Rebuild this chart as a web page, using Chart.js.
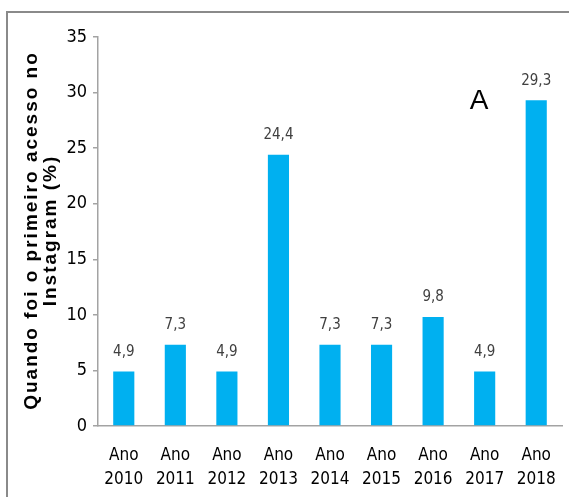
<!DOCTYPE html>
<html>
<head>
<meta charset="utf-8">
<script src="https://cdn.jsdelivr.net/npm/chart.js@4.4.1/dist/chart.umd.min.js"></script>
<style>
  html, body { margin: 0; padding: 0; background: #ffffff; }
  #wrap { position: relative; width: 569px; height: 497px; }
  canvas { display: block; }
</style>
</head>
<body>
<div id="wrap"><canvas id="chart" width="569" height="497"></canvas></div>
<script>
// Categories and series values (percent of respondents)
const categories = [
  ['Ano', '2010'], ['Ano', '2011'], ['Ano', '2012'], ['Ano', '2013'], ['Ano', '2014'],
  ['Ano', '2015'], ['Ano', '2016'], ['Ano', '2017'], ['Ano', '2018']
];
const firstAccess = [4.9, 7.3, 4.9, 24.4, 7.3, 7.3, 9.8, 4.9, 29.3];
const valueLabels = ['4,9', '7,3', '4,9', '24,4', '7,3', '7,3', '9,8', '4,9', '29,3'];
const yTicks = [0, 5, 10, 15, 20, 25, 30, 35];
const axisTitle = ['Quando foi o primeiro acesso no', 'Instagram (%)'];
const panelLetter = 'A';

const NARROW = "'DejaVu Sans Condensed', 'Liberation Sans', Arial, sans-serif";
const axisColor = '#a3a3a3';

// Outer frame (top and left edges) drawn behind the chart
const framePlugin = {
  id: 'frame',
  beforeDraw(chart) {
    const ctx = chart.ctx;
    ctx.save();
    ctx.strokeStyle = '#8a8a8a';
    ctx.lineWidth = 2;
    ctx.beginPath();
    ctx.moveTo(7, chart.height);
    ctx.lineTo(7, 12);
    ctx.lineTo(chart.width, 12);
    ctx.stroke();
    ctx.restore();
  }
};

// Value labels above bars, the rotated two-line axis title and the panel letter
const annotatePlugin = {
  id: 'annotate',
  afterDatasetsDraw(chart) {
    const ctx = chart.ctx;
    const meta = chart.getDatasetMeta(0);
    ctx.save();
    ctx.fillStyle = '#404040';
    ctx.font = "15px " + NARROW;
    ctx.textAlign = 'center';
    ctx.textBaseline = 'bottom';
    meta.data.forEach((bar, i) => {
      ctx.fillText(valueLabels[i], bar.x, bar.y - 12);
    });

    // axis title
    const area = chart.chartArea;
    const cy = (area.top + area.bottom) / 2;
    ctx.fillStyle = '#000000';
    ctx.font = "bold 19px 'Liberation Sans', Arial, sans-serif";
    if ('letterSpacing' in ctx) ctx.letterSpacing = '2px';
    ctx.textAlign = 'center';
    ctx.textBaseline = 'middle';
    const xs = [32, 51];
    axisTitle.forEach((line, i) => {
      ctx.save();
      ctx.translate(xs[i], cy);
      ctx.rotate(-Math.PI / 2);
      ctx.fillText(line, 1, 0);
      ctx.restore();
    });
    if ('letterSpacing' in ctx) ctx.letterSpacing = '0px';

    // panel letter
    ctx.font = "28px 'Liberation Sans', Arial, sans-serif";
    ctx.fillStyle = '#000000';
    ctx.textAlign = 'center';
    ctx.textBaseline = 'alphabetic';
    ctx.fillText(panelLetter, 479, 109);
    ctx.restore();
  }
};

new Chart(document.getElementById('chart'), {
  type: 'bar',
  data: {
    labels: categories,
    datasets: [{
      data: firstAccess,
      backgroundColor: '#00b0f0',
      borderWidth: 0,
      barPercentage: 0.41,
      categoryPercentage: 1.0
    }]
  },
  options: {
    responsive: false,
    animation: false,
    devicePixelRatio: 1,
    layout: { padding: { left: 0, top: 37, right: 7, bottom: 0 } },
    plugins: {
      legend: { display: false },
      tooltip: { enabled: false },
      title: { display: false }
    },
    scales: {
      x: {
        grid: { display: false },
        border: { display: true, color: axisColor, width: 1.5 },
        ticks: {
          color: '#000000',
          font: { family: NARROW, size: 17, lineHeight: 1.45 },
          padding: 9,
          maxRotation: 0,
          autoSkip: false
        },
        afterFit(scale) { scale.height = 71; }
      },
      y: {
        min: 0,
        max: 35,
        afterBuildTicks(scale) { scale.ticks = yTicks.map(v => ({ value: v })); },
        grid: {
          display: true,
          drawOnChartArea: false,
          drawTicks: true,
          tickLength: 5,
          color: axisColor,
          lineWidth: 1.5
        },
        border: { display: true, color: axisColor, width: 1.5 },
        ticks: {
          color: '#000000',
          font: { family: NARROW, size: 18 },
          padding: 6
        },
        afterFit(scale) { scale.width = 98; }
      }
    }
  },
  plugins: [framePlugin, annotatePlugin]
});
</script>
</body>
</html>
